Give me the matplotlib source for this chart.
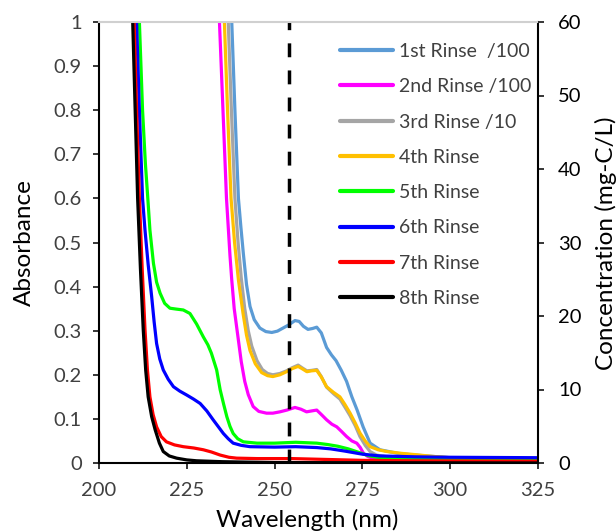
import matplotlib
matplotlib.use("Agg")
import matplotlib.pyplot as plt

plt.rcParams['font.family'] = ['Lato', 'DejaVu Sans']

# ---- data (wavelength nm, absorbance) ----
wl_1 = [237.2, 237.8, 238.7, 239.7, 240.4, 241.1, 242.0, 243.0, 244.2, 245.8, 247.5, 249.2, 250.8,
        252.4, 254.0, 255.8, 257.0, 258.2, 259.5, 260.8, 262.0, 263.3, 264.8, 266.2, 267.5, 269.0,
        270.5, 272.0, 273.5, 275.2, 277.2, 280.0, 285.0, 290.0, 300.0, 310.0, 325.0]
abs_1 = [1.15, 1.0, 0.8, 0.6, 0.535, 0.475, 0.405, 0.355, 0.325, 0.306, 0.298, 0.296, 0.299,
         0.306, 0.313, 0.323, 0.321, 0.31, 0.303, 0.305, 0.308, 0.295, 0.262, 0.245, 0.232, 0.21,
         0.185, 0.15, 0.12, 0.082, 0.045, 0.03, 0.022, 0.018, 0.012, 0.01, 0.008]

wl_2 = [233.6, 234.3, 235.3, 236.3, 237.3, 237.8, 238.5, 239.5, 240.5, 241.5, 242.5, 243.9, 245.5,
        247.7, 249.5, 251.5, 253.5, 255.8, 257.5, 259.1, 260.5, 262.0, 263.3, 264.8, 266.3, 267.7,
        269.0, 270.5, 272.0, 273.4, 274.4, 275.3, 276.5, 278.0, 282.0, 290.0, 300.0, 325.0]
abs_2 = [1.15, 1.0, 0.8, 0.6, 0.47, 0.415, 0.35, 0.29, 0.23, 0.185, 0.155, 0.128, 0.117,
         0.113, 0.113, 0.116, 0.12, 0.126, 0.122, 0.116, 0.118, 0.12, 0.11, 0.098, 0.088, 0.082,
         0.072, 0.06, 0.05, 0.045, 0.035, 0.022, 0.015, 0.011, 0.008, 0.006, 0.005, 0.004]

wl_3 = [236.0, 236.8, 237.7, 238.7, 239.6, 240.5, 241.5, 242.5, 243.5, 245.0, 246.5, 248.0, 249.5,
        251.5, 253.4, 255.0, 256.7, 258.0, 259.2, 260.5, 262.0, 263.3, 264.8, 266.8, 268.6, 270.0,
        271.5, 273.0, 274.3, 275.8, 277.2, 279.0, 282.0, 286.0, 290.0, 300.0, 325.0]
abs_3 = [1.15, 1.0, 0.8, 0.6, 0.5, 0.42, 0.35, 0.3, 0.265, 0.232, 0.212, 0.203, 0.2,
         0.203, 0.209, 0.216, 0.222, 0.215, 0.209, 0.21, 0.212, 0.196, 0.172, 0.157, 0.145, 0.127,
         0.107, 0.084, 0.06, 0.04, 0.026, 0.018, 0.014, 0.012, 0.011, 0.009, 0.008]

wl_4 = [235.0, 235.7, 236.6, 237.6, 238.6, 239.7, 241.0, 242.0, 243.0, 244.5, 246.3, 248.0, 249.5,
        251.5, 253.4, 255.0, 256.7, 258.0, 259.2, 260.5, 262.0, 263.3, 264.8, 266.8, 268.6, 270.0,
        271.5, 273.0, 274.3, 275.8, 277.2, 279.5, 282.0, 286.0, 290.0, 295.0, 300.0, 310.0, 325.0]
abs_4 = [1.15, 1.0, 0.8, 0.6, 0.5, 0.415, 0.34, 0.29, 0.255, 0.225, 0.205, 0.198, 0.196,
         0.2, 0.207, 0.214, 0.219, 0.213, 0.207, 0.209, 0.21, 0.195, 0.173, 0.16, 0.15, 0.133,
         0.113, 0.09, 0.068, 0.05, 0.037, 0.03, 0.026, 0.022, 0.019, 0.015, 0.012, 0.011, 0.01]

wl_5 = [210.8, 211.5, 212.4, 213.2, 213.9, 214.5, 215.5, 216.4, 217.4, 218.7, 220.2, 222.0, 224.0,
        225.9, 227.8, 229.7, 231.0, 232.0, 233.5, 234.5, 235.5, 236.4, 237.3, 238.2, 239.5, 241.1,
        245.0, 250.0, 253.0, 256.0, 259.0, 262.0, 265.0, 268.0, 271.0, 274.0, 277.0, 280.0, 290.0,
        300.0, 325.0]
abs_5 = [1.15, 1.0, 0.8, 0.68, 0.6, 0.528, 0.453, 0.41, 0.385, 0.362, 0.351, 0.349, 0.347,
         0.339, 0.315, 0.286, 0.268, 0.249, 0.211, 0.166, 0.133, 0.105, 0.083, 0.067, 0.055, 0.048,
         0.045, 0.045, 0.046, 0.047, 0.046, 0.045, 0.042, 0.038, 0.032, 0.024, 0.016, 0.012, 0.009,
         0.007, 0.006]

wl_6 = [210.2, 210.7, 211.5, 212.4, 213.1, 214.0, 215.0, 215.7, 216.4, 217.3, 218.3, 219.7, 221.2,
        223.0, 225.0, 226.9, 228.8, 230.7, 232.5, 234.0, 235.4, 236.8, 238.2, 240.5, 243.0, 250.0,
        256.0, 262.0, 266.0, 270.0, 275.0, 280.0, 290.0, 300.0, 325.0]
abs_6 = [1.15, 1.0, 0.8, 0.6, 0.528, 0.45, 0.377, 0.32, 0.271, 0.236, 0.211, 0.19, 0.173,
         0.163, 0.154, 0.145, 0.135, 0.118, 0.098, 0.082, 0.067, 0.055, 0.045, 0.04, 0.037, 0.036,
         0.037, 0.035, 0.032, 0.027, 0.02, 0.016, 0.014, 0.013, 0.012]

wl_7 = [209.6, 210.0, 210.7, 211.5, 212.3, 213.1, 213.8, 214.5, 215.4, 216.4, 217.7, 219.2, 221.5,
        224.0, 227.0, 229.7, 232.0, 234.5, 237.0, 239.2, 245.0, 255.0, 265.0, 275.0, 290.0, 325.0]
abs_7 = [1.15, 1.0, 0.8, 0.6, 0.44, 0.302, 0.21, 0.15, 0.11, 0.082, 0.06, 0.048, 0.041,
         0.037, 0.034, 0.03, 0.025, 0.018, 0.013, 0.011, 0.01, 0.01, 0.008, 0.006, 0.005, 0.004]

wl_8 = [209.2, 209.6, 210.3, 211.0, 211.8, 212.6, 213.3, 214.0, 215.0, 216.0, 217.2, 218.3, 220.0,
        222.1, 225.0, 227.8, 235.0, 250.0, 325.0]
abs_8 = [1.15, 1.0, 0.8, 0.6, 0.44, 0.302, 0.21, 0.15, 0.105, 0.075, 0.045, 0.026, 0.016,
         0.011, 0.007, 0.005, 0.003, 0.001, 0.0]

labels = ["1st Rinse  /100", "2nd Rinse /100", "3rd Rinse /10", "4th Rinse",
          "5th Rinse", "6th Rinse", "7th Rinse", "8th Rinse"]
colors = ["#5B9BD5", "#FF00FF", "#A5A5A5", "#FFC000",
          "#00FF00", "#0000FF", "#FF0000", "#000000"]
series = [(wl_1, abs_1), (wl_2, abs_2), (wl_3, abs_3), (wl_4, abs_4),
          (wl_5, abs_5), (wl_6, abs_6), (wl_7, abs_7), (wl_8, abs_8)]

marker_wl = 254
x_ticks = [200, 225, 250, 275, 300, 325]
y_ticks = [0, 0.1, 0.2, 0.3, 0.4, 0.5, 0.6, 0.7, 0.8, 0.9, 1]
y_tick_labels = ["0", "0.1", "0.2", "0.3", "0.4", "0.5", "0.6", "0.7", "0.8", "0.9", "1"]
conc_ticks = [0, 10, 20, 30, 40, 50, 60]

W, H = 616, 531
fig = plt.figure(figsize=(W / 100, H / 100), dpi=100)
ax = fig.add_axes([99 / W, 1 - 463 / H, (538 - 99) / W, (463 - 22) / H])

for (x, y), lab, c in zip(series, labels, colors):
    ax.plot(x, y, color=c, lw=2.3, label=lab, solid_joinstyle='round', solid_capstyle='round')

# dashed marker line at 254 nm
ax.plot([marker_wl, marker_wl], [0, 1], color='black', lw=2.5, linestyle=(0, (4.0, 3.8)))

ax.set_xlim(200, 325)
ax.set_ylim(0, 1)
ax.set_xticks(x_ticks)
ax.set_yticks(y_ticks)
ax.set_yticklabels(y_tick_labels)
tick_col = '#404040'
ax.tick_params(axis='both', direction='out', length=4.5, width=1.1, labelsize=14.5,
               labelcolor=tick_col, color='black')
ax.tick_params(axis='y', pad=8)
ax.tick_params(axis='x', pad=9)
for s in ['left', 'bottom', 'right']:
    ax.spines[s].set_linewidth(1.5)
    ax.spines[s].set_color('black')
ax.spines['top'].set_color('#D0D0D0')
ax.spines['top'].set_linewidth(1.5)

ax2 = ax.twinx()
ax2.set_ylim(0, 60)
ax2.set_yticks(conc_ticks)
ax2.tick_params(axis='y', direction='out', length=4.5, width=1.1, labelsize=14.5,
                labelcolor='black', pad=10)
for s in ['left', 'bottom', 'right', 'top']:
    ax2.spines[s].set_visible(False)

leg = ax2.legend(*ax.get_legend_handles_labels(), loc='upper left',
                 bbox_to_anchor=(340 / W, 1 - 43 / H), bbox_transform=fig.transFigure,
                 frameon=False, fontsize=14, handlelength=2.75, handletextpad=0.28,
                 labelspacing=0.94, borderpad=0, borderaxespad=0)
for t in leg.get_texts():
    t.set_color(tick_col)
for l in leg.get_lines():
    l.set_linewidth(3)

fig.text(24 / W, 1 - 243 / H, "Absorbance", rotation=90, ha='center', va='center', fontsize=17.5)
fig.text(307 / W, 1 - 520 / H, "Wavelength (nm)", ha='center', va='center', fontsize=17.5)
fig.text(606 / W, 1 - 243 / H, "Concentration (mg-C/L)", rotation=90, ha='center',
         va='center', fontsize=17.5)

fig.savefig("out.png", dpi=100)
